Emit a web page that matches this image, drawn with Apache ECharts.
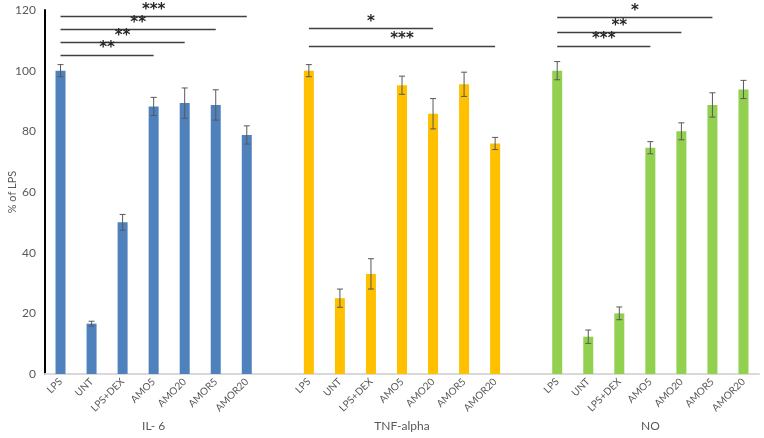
<!DOCTYPE html>
<html>
<head>
<meta charset="utf-8">
<script src="https://cdn.jsdelivr.net/npm/echarts@6/dist/echarts.min.js"></script>
<style>
  html, body { margin: 0; padding: 0; background: #fff; }
  #chart { width: 764px; height: 438px; }
</style>
</head>
<body>
<div id="chart"></div>
<script>
// groups and treatments
const groups = ['IL- 6', 'TNF-alpha', 'NO'];
const treatments = ['LPS', 'UNT', 'LPS+DEX', 'AMO5', 'AMO20', 'AMOR5', 'AMOR20'];

// % of LPS
const il6 = [100, 16.6, 50, 88.2, 89.3, 88.7, 78.8];
const il6Err = [2, 0.8, 2.6, 3, 5, 5, 3];
const tnf = [100, 25, 33, 95.2, 85.8, 95.5, 76];
const tnfErr = [2, 3, 5, 3, 5, 4, 2];
const no = [100, 12.3, 20, 74.6, 80, 88.7, 93.8];
const noErr = [3, 2.2, 2.1, 2, 2.8, 4, 3];

const yTicks = [0, 20, 40, 60, 80, 100, 120];

// significance brackets: [group, from treatment, to treatment, level, stars]
const sigLines = [
    [0, 0, 6, 117.8, '***'],
    [0, 0, 5, 113.6, '**'],
    [0, 0, 4, 109.4, '**'],
    [0, 0, 3, 105.2, '**'],
    [1, 0, 4, 114.0, '*'],
    [1, 0, 6, 108.2, '***'],
    [2, 0, 5, 117.6, '*'],
    [2, 0, 4, 112.7, '**'],
    [2, 0, 3, 108.1, '***']
];

const colors = ['#4f81bd', '#ffc000', '#92d050'];
const values = [il6, tnf, no];
const errors = [il6Err, tnfErr, noErr];

// 7 bars per group with one empty slot between groups
const slot = 8;
const categories = [];
const groupLabels = [];
groups.forEach((g, gi) => {
    treatments.forEach((t, ti) => {
        categories.push(t);
        groupLabels.push(ti === 3 ? g : '');
    });
    if (gi < groups.length - 1) {
        categories.push('');
        groupLabels.push('');
    }
});

const fontFamily = 'Lato, "Open Sans", sans-serif';

const series = [];
groups.forEach((g, gi) => {
    const data = categories.map(() => null);
    values[gi].forEach((v, ti) => { data[gi * slot + ti] = v; });
    const lines = sigLines.filter(s => s[0] === gi).map(s => [
        {
            coord: [gi * slot + s[1], s[3]],
            label: {
                show: true,
                formatter: s[4],
                position: 'insideMiddleTop',
                distance: -1,
                color: '#262626',
                fontSize: 15,
                fontWeight: 'bold',
                fontFamily: '"DejaVu Sans", sans-serif'
            }
        },
        { coord: [gi * slot + s[2], s[3]] }
    ]);
    series.push({
        type: 'bar',
        name: g,
        data: data,
        barWidth: 10,
        barGap: '-100%',
        itemStyle: { color: colors[gi] },
        silent: true,
        markLine: {
            symbol: 'none',
            silent: true,
            animation: false,
            lineStyle: { color: '#404040', width: 1.3, type: 'solid' },
            data: lines
        }
    });
});

// error bars
const errData = [];
groups.forEach((g, gi) => {
    values[gi].forEach((v, ti) => {
        errData.push([gi * slot + ti, v - errors[gi][ti], v + errors[gi][ti]]);
    });
});
series.push({
    type: 'custom',
    silent: true,
    data: errData,
    encode: { x: 0, y: [1, 2] },
    z: 5,
    renderItem: function (params, api) {
        const lo = api.coord([api.value(0), api.value(1)]);
        const hi = api.coord([api.value(0), api.value(2)]);
        const cap = 3;
        const style = { stroke: '#595959', lineWidth: 1 };
        return {
            type: 'group',
            children: [
                { type: 'line', shape: { x1: hi[0], y1: hi[1], x2: lo[0], y2: lo[1] }, style: style },
                { type: 'line', shape: { x1: hi[0] - cap, y1: hi[1], x2: hi[0] + cap, y2: hi[1] }, style: style },
                { type: 'line', shape: { x1: lo[0] - cap, y1: lo[1], x2: lo[0] + cap, y2: lo[1] }, style: style }
            ]
        };
    }
});

const chart = echarts.init(document.getElementById('chart'));
chart.setOption({
    animation: false,
    textStyle: { fontFamily: fontFamily },
    grid: { left: 45, right: 5, top: 10, bottom: 64, containLabel: false, outerBoundsMode: 'none' },
    xAxis: [
        {
            type: 'category',
            data: categories,
            axisLine: { lineStyle: { color: '#d9d9d9', width: 2 } },
            axisTick: { show: false },
            axisLabel: {
                interval: 0,
                rotate: 45,
                color: '#595959',
                fontSize: 10,
                margin: 6,
                fontFamily: fontFamily
            }
        },
        {
            type: 'category',
            data: groupLabels,
            position: 'bottom',
            offset: 40,
            axisLine: { show: false },
            axisTick: { show: false },
            axisLabel: {
                interval: 0,
                color: '#595959',
                fontSize: 12,
                margin: 6,
                fontFamily: fontFamily
            }
        }
    ],
    yAxis: {
        type: 'value',
        min: yTicks[0],
        max: yTicks[yTicks.length - 1],
        interval: 20,
        name: '% of LPS',
        nameLocation: 'middle',
        nameGap: 27,
        nameMoveOverlap: false,
        nameTextStyle: { color: '#595959', fontSize: 11, fontFamily: fontFamily },
        axisLine: { show: true, lineStyle: { color: '#000', width: 2 } },
        axisTick: { show: false },
        splitLine: { show: false },
        axisLabel: { color: '#595959', fontSize: 12, margin: 9, fontFamily: fontFamily }
    },
    series: series
});
</script>
</body>
</html>
